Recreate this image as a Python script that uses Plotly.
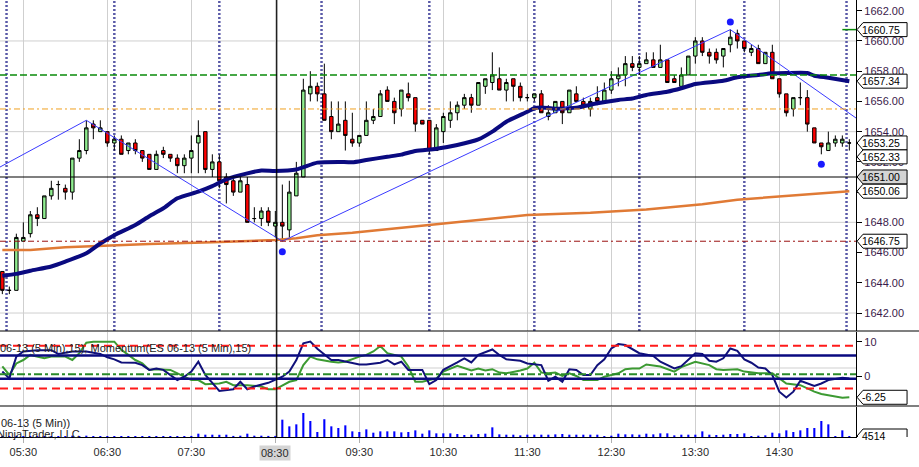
import pandas as pd
import plotly.graph_objects as go

DAY = "2013-05-23 "

# 5 minute bars, ES 06-13, 05:15 .. 15:20
bar_times = pd.date_range(DAY + "05:15", periods=122, freq="5min")

opens = [1644.75, 1643.5, 1643.5, 1646.75, 1647.25, 1648.5, 1648.25, 1649.75, 1650.5, 1650.25,
         1650.0, 1652.25, 1652.75, 1654.5, 1654.0, 1654.0, 1653.25, 1653.5, 1652.75, 1653.25,
         1652.75, 1652.5, 1651.5, 1652.75, 1652.5, 1652.25, 1651.75, 1652.25, 1653.25, 1654.0,
         1651.5, 1652.0, 1651.0, 1650.75, 1650.0, 1650.5, 1648.25, 1648.25, 1648.75, 1647.75,
         1648.0, 1647.5, 1649.75, 1651.0, 1656.5, 1657.0, 1656.5, 1655.0, 1654.0, 1654.75,
         1653.5, 1653.25, 1653.75, 1654.75, 1655.0, 1656.75, 1656.0, 1655.5, 1656.5, 1656.25,
         1654.75, 1654.75, 1652.75, 1654.0, 1654.75, 1655.25, 1655.75, 1656.25, 1655.75, 1657.0,
         1657.25, 1657.5, 1656.75, 1657.5, 1657.0, 1656.25, 1656.25, 1656.5, 1655.0, 1655.25,
         1656.0, 1655.25, 1656.5, 1656.0, 1655.5, 1656.25, 1656.0, 1656.75, 1657.5, 1657.75,
         1658.5, 1658.25, 1658.5, 1658.75, 1658.25, 1658.75, 1657.5, 1657.0, 1657.75, 1659.0,
         1660.0, 1659.25, 1659.25, 1659.0, 1659.75, 1660.5, 1660.0, 1659.25, 1659.5, 1658.5,
         1659.25, 1657.5, 1656.5, 1655.5, 1656.25, 1656.25, 1654.25, 1653.25, 1652.75, 1653.25,
         1653.25, 1653.25]
highs = [1644.75, 1643.75, 1647.25, 1648.0, 1648.75, 1649.0, 1649.75, 1650.75, 1650.75, 1650.5,
         1652.25, 1653.5, 1654.75, 1654.75, 1654.75, 1654.0, 1653.75, 1653.75, 1653.25, 1653.5,
         1652.75, 1652.5, 1652.75, 1653.0, 1652.5, 1652.5, 1652.5, 1653.75, 1654.75, 1654.0,
         1652.5, 1652.5, 1651.25, 1651.0, 1651.0, 1651.0, 1649.0, 1649.0, 1649.0, 1648.75,
         1650.5, 1650.75, 1652.0, 1657.5, 1658.0, 1657.25, 1658.5, 1656.0, 1656.0, 1656.0,
         1655.25, 1653.75, 1656.0, 1655.5, 1656.75, 1657.0, 1656.25, 1656.75, 1657.25, 1656.25,
         1654.75, 1654.75, 1654.5, 1655.25, 1656.0, 1656.0, 1656.5, 1656.5, 1657.25, 1657.5,
         1659.25, 1658.25, 1657.5, 1657.5, 1657.25, 1656.5, 1656.5, 1656.75, 1655.75, 1656.0,
         1656.0, 1656.75, 1657.0, 1656.25, 1656.25, 1657.0, 1657.25, 1658.0, 1658.25, 1659.0,
         1659.0, 1659.0, 1659.25, 1659.25, 1659.75, 1658.75, 1657.75, 1658.25, 1659.0, 1660.25,
         1660.25, 1659.5, 1659.5, 1659.5, 1660.75, 1660.75, 1660.0, 1659.75, 1659.75, 1659.25,
         1659.75, 1657.5, 1656.5, 1656.25, 1657.25, 1656.75, 1654.25, 1653.25, 1654.0, 1653.75,
         1653.75, 1653.5]
lows = [1643.25, 1643.25, 1643.5, 1646.75, 1647.0, 1647.75, 1648.25, 1649.5, 1649.5, 1649.5,
        1649.5, 1652.0, 1652.5, 1653.5, 1654.0, 1653.0, 1652.75, 1652.5, 1652.5, 1652.5,
        1652.0, 1651.5, 1651.5, 1652.25, 1652.0, 1651.25, 1651.25, 1651.25, 1651.25, 1651.25,
        1651.0, 1650.25, 1649.25, 1649.75, 1650.0, 1648.0, 1648.0, 1647.75, 1647.75, 1647.0,
        1646.75, 1647.0, 1649.75, 1651.0, 1656.0, 1656.0, 1654.75, 1653.5, 1654.0, 1652.75,
        1653.0, 1653.0, 1653.75, 1654.5, 1655.0, 1656.0, 1654.5, 1655.0, 1656.0, 1654.0,
        1654.5, 1652.5, 1652.75, 1653.25, 1654.25, 1654.75, 1655.5, 1655.25, 1655.75, 1656.5,
        1656.75, 1656.75, 1656.0, 1656.0, 1656.0, 1656.0, 1656.0, 1655.25, 1654.75, 1655.25,
        1654.5, 1655.25, 1656.0, 1655.5, 1655.0, 1655.75, 1656.0, 1656.5, 1657.0, 1657.0,
        1658.0, 1657.75, 1658.5, 1658.25, 1658.25, 1657.25, 1657.25, 1657.0, 1657.75, 1658.5,
        1659.0, 1658.5, 1658.5, 1658.25, 1659.25, 1659.5, 1659.25, 1659.0, 1658.5, 1658.5,
        1657.5, 1656.25, 1655.0, 1655.0, 1655.75, 1654.0, 1653.25, 1652.5, 1652.75, 1653.0,
        1653.0, 1652.75]
closes = [1643.5, 1643.5, 1647.0, 1647.0, 1648.5, 1648.25, 1649.75, 1650.25, 1650.5, 1650.0,
          1652.25, 1652.75, 1654.25, 1654.25, 1654.25, 1653.25, 1653.5, 1652.5, 1653.25, 1652.75,
          1652.25, 1651.5, 1652.5, 1652.5, 1652.25, 1651.75, 1652.25, 1652.75, 1653.75, 1651.5,
          1652.0, 1650.75, 1650.5, 1650.0, 1650.75, 1648.0, 1648.25, 1648.75, 1648.0, 1648.0,
          1647.75, 1650.0, 1651.25, 1656.75, 1657.0, 1656.5, 1654.75, 1654.0, 1654.5, 1653.75,
          1653.25, 1653.75, 1654.75, 1655.0, 1656.5, 1656.0, 1655.25, 1656.75, 1656.25, 1654.5,
          1654.5, 1652.75, 1654.25, 1655.0, 1655.25, 1655.75, 1656.25, 1655.75, 1657.25, 1657.5,
          1657.75, 1656.75, 1657.25, 1657.0, 1656.25, 1656.25, 1656.5, 1655.25, 1655.25, 1656.0,
          1655.25, 1656.75, 1656.0, 1655.75, 1656.0, 1656.0, 1656.75, 1657.5, 1657.75, 1658.5,
          1658.25, 1658.5, 1658.75, 1658.25, 1658.75, 1657.25, 1657.25, 1657.75, 1659.0, 1660.0,
          1659.25, 1659.0, 1658.75, 1659.5, 1660.25, 1660.0, 1659.5, 1659.5, 1658.5, 1659.25,
          1657.5, 1656.5, 1655.25, 1656.25, 1656.25, 1654.5, 1653.25, 1653.0, 1653.25, 1653.5,
          1653.5, 1653.25]
volumes = [3000, 2500, 5000, 3500, 4000, 2000, 3000, 4500, 2500, 3500,
           6000, 4500, 6000, 4000, 4500, 2500, 4000, 2000, 2500, 4000,
           4000, 4000, 4000, 2000, 2500, 4000, 2500, 5000, 15000, 10500,
           10500, 10000, 10500, 5000, 6000, 15000, 6000, 6000, 5000, 5000,
           78000, 48000, 57000, 108000, 72000, 22500, 80000, 48000, 40500, 52500,
           25500, 22500, 34500, 19500, 25500, 25500, 25500, 21000, 22500, 30000,
           15000, 30000, 16500, 16500, 16500, 13500, 9000, 10500, 13500, 15000,
           43500, 12000, 10500, 10500, 7500, 10500, 10500, 10500, 10500, 12000,
           13500, 10500, 10500, 10500, 10500, 10500, 3000, 6000, 15000, 12000,
           12000, 10500, 15000, 12000, 16500, 16500, 7500, 10500, 10500, 10500,
           25500, 10500, 9000, 10500, 13500, 13500, 16500, 4500, 6000, 7500,
           19500, 16500, 30000, 22500, 30000, 40500, 40500, 72000, 57000, 4500,
           30000, 4514]

# moving averages (bar index, price)
sma_fast_bar = [0, 2, 4, 7, 9, 12, 14, 16, 19, 21, 23, 25, 28, 30, 32, 35, 37, 39, 42, 45,
                48, 50, 52, 55, 57, 59, 62, 65, 68, 70, 72, 75, 76, 77, 79, 82, 85, 88, 90, 92,
                95, 97, 99, 103, 105, 108, 110, 112, 115, 116, 118, 121]
sma_fast_val = [1644.47, 1644.59, 1644.8, 1645.08, 1645.4, 1645.95, 1646.6, 1647.15, 1647.82, 1648.4,
                1648.93, 1649.59, 1650.03, 1650.4, 1650.85, 1651.24, 1651.43, 1651.4, 1651.5, 1651.95,
                1652.0, 1651.97, 1652.12, 1652.34, 1652.48, 1652.72, 1652.87, 1653.12, 1653.49, 1654.0,
                1654.66, 1655.32, 1655.55, 1655.59, 1655.52, 1655.59, 1655.88, 1656.1, 1656.19, 1656.43,
                1656.64, 1656.87, 1657.15, 1657.37, 1657.6, 1657.75, 1657.86, 1657.88, 1657.88, 1657.7,
                1657.57, 1657.34]
sma_slow_bar = [0, 4, 9, 14, 19, 21, 30, 39, 42, 45, 50, 55, 62, 68, 75, 84, 92, 100, 105, 111, 121]
sma_slow_val = [1646.17, 1646.17, 1646.35, 1646.45, 1646.57, 1646.57, 1646.68, 1646.83, 1646.94, 1647.14,
                1647.31, 1647.53, 1647.84, 1648.15, 1648.48, 1648.63, 1648.85, 1649.2, 1649.5, 1649.71,
                1650.06]

# zigzag swing line and swing dots
zigzag_time = ["05:13:20", "06:15", "08:35", "13:55", "15:24:48"]
zigzag_val = [1651.66, 1654.75, 1646.75, 1660.75, 1654.9]
swing_dot_time = ["08:35", "13:55", "15:00"]
swing_dot_val = [1646.05, 1661.25, 1651.84]

# momentum panel (bar index, value)
mom_bar = [0, 1, 2, 3, 5, 7, 8, 10, 12, 14, 15, 16, 17, 19, 20, 21, 22, 23, 25, 26,
           27, 28, 29, 31, 33, 34, 35, 36, 38, 39, 40, 41, 42, 43, 44, 45, 47, 48, 50, 51,
           52, 54, 55, 56, 57, 58, 60, 61, 62, 63, 65, 66, 67, 68, 70, 71, 72, 74, 75, 77,
           78, 79, 80, 81, 82, 83, 84, 85, 86, 87, 88, 89, 91, 93, 94, 96, 97, 99, 100, 101,
           102, 103, 104, 105, 106, 107, 108, 109, 110, 111, 112, 113, 114, 116, 117, 118, 120, 121]
mom_val = [1.3, -0.7, 5.7, 7.2, 7.6, 7.6, 6.5, 7.2, 7.2, 6.5, 5.5, 4.9, 4.0, 3.9, 3.2, 1.8, 2.2, 1.8, -1.2, -0.2,
           1.3, 4.2, 0.3, -4.4, -3.9, -1.7, -3.9, -3.1, -2.0, -1.2, -0.2, 1.3, 4.7, 9.6, 10.1, 8.0, 4.7, 4.7, 3.7, 3.4,
           3.4, 3.9, 4.7, 3.4, 4.2, 1.8, 1.8, -2.4, -1.2, 1.8, 4.0, 5.2, 4.0, 6.2, 7.8, 6.2, 4.9, 4.5, 3.7, 3.2,
           -1.4, -0.2, -1.7, 2.0, 1.8, 0.3, 0.3, 3.2, 4.9, 8.1, 9.4, 9.1, 6.7, 5.9, 4.2, 2.2, 2.9, 6.7, 6.5, 4.5,
           4.2, 5.2, 8.1, 7.4, 4.9, 3.9, 2.5, 2.2, 0.3, -4.6, -6.3, -4.6, -1.4, -2.9, -2.2, -1.2, -0.5, -0.7]
sig_bar = [0, 1, 2, 3, 4, 6, 7, 9, 10, 11, 12, 13, 16, 17, 18, 19, 20, 21, 22, 24,
           26, 27, 28, 29, 31, 32, 33, 35, 37, 38, 39, 41, 42, 43, 44, 45, 47, 48, 49, 51,
           52, 53, 54, 55, 57, 58, 59, 60, 61, 62, 63, 65, 67, 68, 69, 70, 71, 72, 74, 75,
           76, 77, 78, 79, 80, 81, 82, 83, 85, 86, 88, 89, 90, 91, 92, 94, 96, 97, 99, 101,
           102, 103, 105, 106, 108, 110, 111, 112, 114, 116, 117, 119, 120, 121]
sig_val = [2.8, 0.3, 3.7, 4.7, 6.2, 5.2, 5.7, 5.7, 4.7, 6.7, 9.8, 10.1, 10.1, 7.7, 6.2, 4.7, 3.7, 1.8, 2.0, 1.8,
           -0.2, -1.2, -1.2, -2.4, -2.2, -1.7, -2.7, -2.7, -3.1, -3.9, -3.9, -1.7, -1.2, 3.2, 5.7, 4.9, 4.2, 4.0, 4.2, 5.7,
           6.2, 7.2, 8.8, 6.7, 5.7, 2.8, -1.7, -1.7, -1.2, -0.7, 1.3, 3.0, 1.6, 2.2, 1.6, 2.0, 1.0, 0.8, 1.6, 2.2,
           3.9, 1.0, 0.8, 1.0, 0.0, 0.8, 0.0, -1.2, -1.2, -0.2, 0.8, 2.0, 2.2, 2.2, 3.4, 2.8, 1.3, 2.6, 4.2, 3.2,
           2.0, 1.8, 2.0, 1.3, 0.8, 0.8, -0.7, -2.2, -2.7, -4.6, -5.3, -5.9, -6.4, -6.25]

# reference levels
price_ticks = [1642, 1644, 1646, 1648, 1650, 1652, 1654, 1656, 1658, 1660, 1662]
price_grid = [1642, 1648, 1654, 1660]
level_green = 1657.75
level_orange = 1655.5
level_darkred = 1646.75
crosshair_price = 1651.0
crosshair_time = "08:31"
session_marks = ["05:18", "06:35", "07:50", "09:03", "10:20", "11:35", "12:50", "14:05", "15:18"]
mom_red_levels = [8.9, -3.7]
mom_blue_levels = [6.0, -0.8]
mom_green_level = 0.5
mom_grid_level = 2.35

price_labels = [(1660.75, "1660.75", "white"), (1657.34, "1657.34", "white"),
                (1653.25, "1653.25", "white"), (1652.33, "1652.33", "white"),
                (1651.00, "1651.00", "#d4d4d4"), (1650.06, "1650.06", "white"),
                (1646.75, "1646.75", "white")]

FONT = "Liberation Sans, Arial, sans-serif"
AXIS_TXT = "#3a1a4a"
X_END = DAY + "15:24:48"


def t(s):
    return DAY + s


fig = go.Figure()

fig.add_trace(go.Candlestick(
    x=bar_times, open=opens, high=highs, low=lows, close=closes,
    increasing=dict(fillcolor="#90ee90", line=dict(color="black", width=1)),
    decreasing=dict(fillcolor="#ff0000", line=dict(color="black", width=1)),
    whiskerwidth=0, xaxis="x", yaxis="y", hoverinfo="skip"))

fig.add_trace(go.Scatter(x=[bar_times[k] for k in sma_slow_bar], y=sma_slow_val, mode="lines",
                         line=dict(color="#e07a35", width=2.5), yaxis="y"))
fig.add_trace(go.Scatter(x=[bar_times[k] for k in sma_fast_bar], y=sma_fast_val, mode="lines",
                         line=dict(color="#0a0a80", width=4, shape="spline", smoothing=0.6), yaxis="y"))
fig.add_trace(go.Scatter(x=[t(s) for s in zigzag_time], y=zigzag_val, mode="lines",
                         line=dict(color="#3a3aff", width=1), yaxis="y"))
fig.add_trace(go.Scatter(x=[t(s) for s in swing_dot_time], y=swing_dot_val, mode="markers",
                         marker=dict(color="#1a1aff", size=7), yaxis="y"))

# momentum panel
fig.add_trace(go.Scatter(x=[bar_times[k] for k in sig_bar], y=sig_val, mode="lines",
                         line=dict(color="#3c9a32", width=2), yaxis="y2"))
fig.add_trace(go.Scatter(x=[bar_times[k] for k in mom_bar], y=mom_val, mode="lines",
                         line=dict(color="#10107a", width=2), yaxis="y2"))

# volume panel
fig.add_trace(go.Bar(x=bar_times, y=volumes, width=90000, marker=dict(color="#0000ff", line=dict(width=0)),
                     yaxis="y3"))

shapes = []
for lv in price_grid:
    shapes.append(dict(type="line", xref="x domain", x0=0, x1=1, yref="y", y0=lv, y1=lv,
                       line=dict(color="#cfcfcf", width=1), layer="below"))
shapes.append(dict(type="line", xref="x domain", x0=0, x1=1, yref="y2", y0=mom_grid_level, y1=mom_grid_level,
                   line=dict(color="#cfcfcf", width=1), layer="below"))
for s in session_marks:
    shapes.append(dict(type="line", xref="x", x0=t(s), x1=t(s), yref="y domain", y0=0, y1=1,
                       line=dict(color="#5a5aa8", width=2.5, dash="2px,2px"), layer="below"))
shapes.append(dict(type="line", xref="x domain", x0=0, x1=1, yref="y", y0=level_green, y1=level_green,
                   line=dict(color="#0a8a0a", width=1.5, dash="7px,3px")))
shapes.append(dict(type="line", xref="x domain", x0=0, x1=1, yref="y", y0=level_orange, y1=level_orange,
                   line=dict(color="#f0a020", width=1, dash="6px,3px,2px,3px")))
shapes.append(dict(type="line", xref="x domain", x0=0, x1=1, yref="y", y0=level_darkred, y1=level_darkred,
                   line=dict(color="#9a1010", width=1, dash="6px,3px,2px,3px")))
shapes.append(dict(type="line", xref="x", x0=bar_times[120], x1=X_END, yref="y", y0=1660.75, y1=1660.75,
                   line=dict(color="#0a8a0a", width=1.5)))
for lv in mom_red_levels:
    shapes.append(dict(type="line", xref="x domain", x0=0, x1=1, yref="y2", y0=lv, y1=lv,
                       line=dict(color="#ff1a1a", width=2, dash="8px,5px")))
for lv in mom_blue_levels:
    shapes.append(dict(type="line", xref="x domain", x0=0, x1=1, yref="y2", y0=lv, y1=lv,
                       line=dict(color="#0a0a80", width=2.5)))
shapes.append(dict(type="line", xref="x domain", x0=0, x1=1, yref="y2", y0=mom_green_level, y1=mom_green_level,
                   line=dict(color="#2a8a2a", width=2, dash="8px,3px,3px,3px")))
# crosshair
shapes.append(dict(type="line", xref="x domain", x0=0, x1=1, yref="y", y0=crosshair_price, y1=crosshair_price,
                   line=dict(color="black", width=1.2)))
shapes.append(dict(type="line", xref="x", x0=t(crosshair_time), x1=t(crosshair_time), yref="paper",
                   y0=0.0642, y1=1, line=dict(color="black", width=1.2)))
# panel separators
for ax in ["y", "y2"]:
    shapes.append(dict(type="line", xref="paper", x0=0, x1=1, yref=ax + " domain", y0=0, y1=0,
                       line=dict(color="black", width=1.2)))

annotations = []


def value_label(val, text, fill, yref):
    shapes.append(dict(type="path", xref="x domain", yref=yref, xsizemode="pixel", ysizemode="pixel",
                       xanchor=1, yanchor=val, path="M 1 0 L 7 7 L 51 7 L 51 -7 L 7 -7 Z",
                       fillcolor=fill, line=dict(color="black", width=1), layer="above"))
    annotations.append(dict(xref="x domain", x=1, xanchor="left", xshift=5, yref=yref, y=val,
                            yanchor="middle", text=text, showarrow=False, borderpad=0,
                            font=dict(family=FONT, size=10.5, color="black")))


for val, text, fill in price_labels:
    value_label(val, text, fill, "y")
value_label(sig_val[-1], "-6.25", "white", "y2")
value_label(volumes[-1], "4514", "white", "y3")

annotations.append(dict(xref="paper", x=0, xanchor="left", xshift=-2, yref="paper", y=0.2555, yanchor="middle",
                        text="06-13 (5 Min),15), Momentum(ES 06-13 (5 Min),15)", showarrow=False,
                        font=dict(family=FONT, size=11, color="#222222")))
annotations.append(dict(xref="paper", x=0, xanchor="left", xshift=-1, yref="paper", y=0.0942, yanchor="middle",
                        text="06-13 (5 Min))", showarrow=False,
                        font=dict(family=FONT, size=11, color="#222222")))
annotations.append(dict(xref="paper", x=0, xanchor="left", xshift=-5, yref="paper", y=0.0707, yanchor="middle",
                        text="NinjaTrader, LLC", showarrow=False,
                        font=dict(family=FONT, size=11, color="#222222")))
annotations.append(dict(xref="x", x=t("08:30"), xanchor="center", yref="paper", y=0.03, yanchor="middle",
                        text="08:30", showarrow=False, bgcolor="#d4d4d4", borderpad=1,
                        font=dict(family=FONT, size=11, color="#2a2a2a")))

fig.update_layout(
    width=919, height=467,
    margin=dict(l=0, r=0, t=0, b=0),
    paper_bgcolor="white", plot_bgcolor="white",
    showlegend=False, hovermode=False,
    font=dict(family=FONT, size=11, color=AXIS_TXT),
    shapes=shapes, annotations=annotations,
    xaxis=dict(type="date", domain=[0, 0.9315], anchor="y3",
               range=[t("05:13:20"), X_END],
               tickformat="%H:%M", tick0=t("05:30"), dtick=3600000,
               showgrid=True, gridcolor="#cfcfcf", gridwidth=1,
               ticks="outside", ticklen=5, tickcolor="#b0b0b0",
               showline=True, linecolor="black", linewidth=1.2,
               tickfont=dict(family=FONT, size=11, color="#2a2a2a"),
               rangeslider=dict(visible=False)),
    yaxis=dict(domain=[0.2912, 1], anchor="x", side="right", range=[1640.81, 1662.71],
               tickvals=price_ticks, tickformat=".2f", showgrid=False, zeroline=False,
               ticks="outside", ticklen=5, tickcolor="black",
               showline=True, linecolor="black", linewidth=1.2,
               tickfont=dict(family=FONT, size=11, color=AXIS_TXT)),
    yaxis2=dict(domain=[0.1306, 0.2891], anchor="x", side="right", range=[-8.82, 12.94],
                tickvals=[-10, 0, 10], showgrid=False, zeroline=False,
                ticks="outside", ticklen=5, tickcolor="black",
                showline=True, linecolor="black", linewidth=1.2,
                tickfont=dict(family=FONT, size=11, color=AXIS_TXT)),
    yaxis3=dict(domain=[0.0642, 0.1285], anchor="x", side="right", range=[0, 135000],
                showticklabels=False, showgrid=False, zeroline=False, ticks="",
                showline=True, linecolor="black", linewidth=1.2),
)

# the page's default 8px body margin would push the chart off the window
fig.write_html("out.html", config={"displayModeBar": False},
               post_script="document.body.style.margin='0px';")
